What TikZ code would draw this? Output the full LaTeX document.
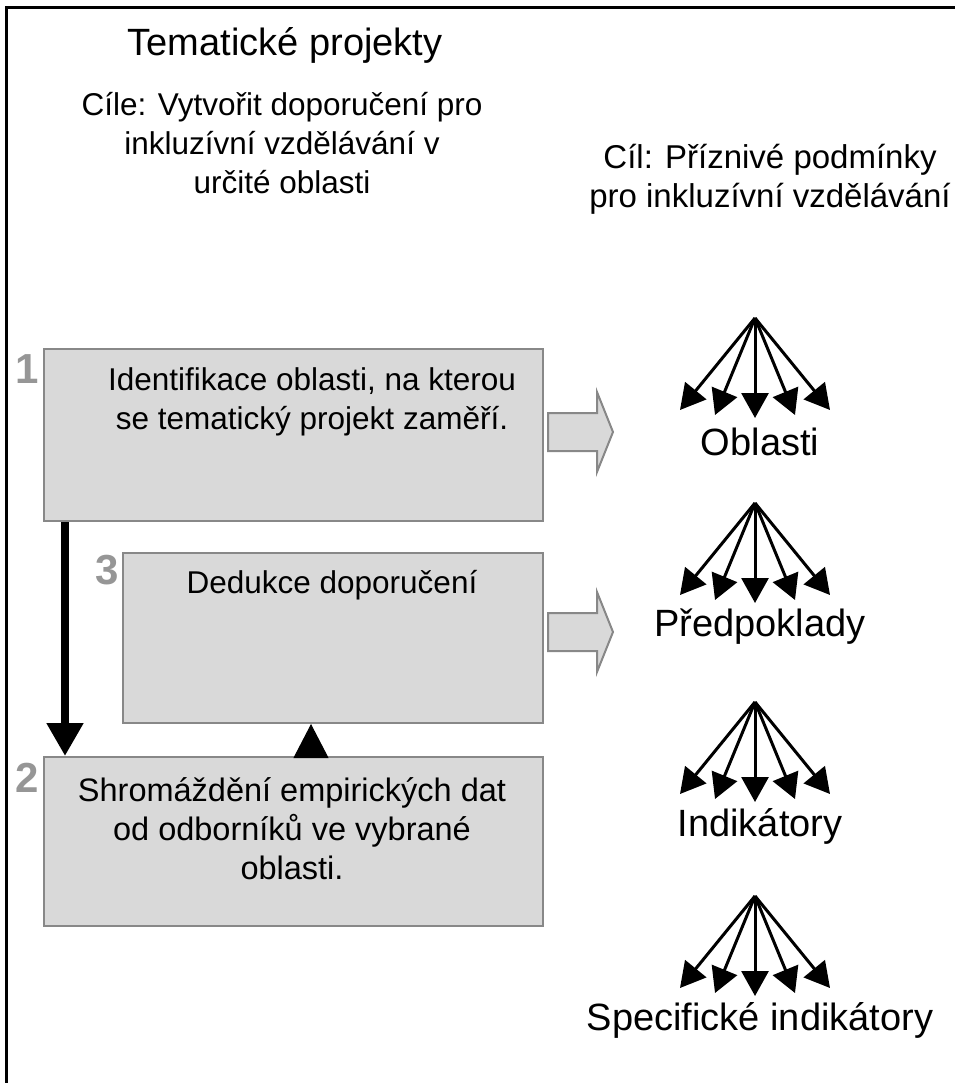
\documentclass[tikz,border=0pt]{standalone}
\usepackage{fontspec}
\setmainfont{Liberation Sans}
\usetikzlibrary{arrows.meta, positioning}
\definecolor{boxfill}{RGB}{217,217,217}
\definecolor{boxline}{RGB}{136,136,136}
\definecolor{numgray}{RGB}{150,150,150}

\begin{document}
\begin{tikzpicture}[x=1pt, y=-1pt,
        stepbox/.style={draw=boxline, fill=boxfill, line width=2pt, inner sep=0pt, anchor=north west},
        txt/.style={font=\fontsize{31.5}{39}\selectfont, align=center, inner sep=0pt},
        bigtxt/.style={font=\fontsize{38}{38}\selectfont, align=center, inner sep=0pt},
        num/.style={font=\fontsize{42}{42}\selectfont\bfseries, text=numgray, inner sep=0pt},
        fan/.style={line width=3pt, -{Triangle[length=25pt, width=27pt]}},
        blockarrow/.style={draw=boxline, fill=boxfill, line width=2pt, line join=miter}]
        \useasboundingbox (0,0) rectangle (955,1083);
        \draw[line width=3pt] (6,1083) -- (6,8) -- (955,8);

        % left column: titles
        \node[txt, font=\fontsize{38}{42}\selectfont] (title) at (285,45) {Tematické projekty};
        \node[txt] (aims) at (282,143) {Cíle: Vytvořit doporučení pro\\inkluzívní vzdělávání v\\určité oblasti};
        \node[txt, font=\fontsize{33}{39}\selectfont] (goal) at (770,179) {Cíl: Příznivé podmínky\\pro inkluzívní vzdělávání};

        % the three steps
        \node[stepbox, minimum width=499, minimum height=172] (ident) at (43,348) {};
        \node[stepbox, minimum width=420, minimum height=170] (deduce) at (122,552) {};
        \node[stepbox, minimum width=499, minimum height=169] (collect) at (43,756) {};
        \node[txt] (identtxt) at (312,402) {Identifikace oblasti, na kterou\\se tematický projekt zaměří.};
        \node[txt] (deducetxt) at (332,585) {Dedukce doporučení};
        \node[txt, font=\fontsize{32.5}{39}\selectfont] (collecttxt) at (292,829) {Shromáždění empirických dat\\od odborníků ve vybrané\\oblasti.};
        \node[num] (n1) at (27,369) {1};
        \node[num] (n3) at (107,570) {3};
        \node[num] (n2) at (27,778) {2};

        \draw[line width=8pt, -{Triangle[length=33pt, width=35pt]}] ([xshift=22pt]ident.south west) -- ([xshift=22pt]collect.north west);
        \draw[line width=1pt, -{Triangle[length=34pt, width=35pt]}] ([xshift=268pt]collect.north west) -- ([xshift=189pt]deduce.south west);

        % block arrows to the right
        \foreach \yc in {432,632} {
            \draw[blockarrow] (548,{\yc-19}) -- (597,{\yc-19}) -- (597,{\yc-40}) -- (613,\yc)
                -- (597,{\yc+40}) -- (597,{\yc+19}) -- (548,{\yc+19}) -- cycle;
        }

        % fans
        \foreach \ay/\lab [count=\i] in {318/Oblasti, 503/Předpoklady, 702/Indikátory, 896/Specifické indikátory} {
            \coordinate (apex\i) at (755,\ay);
            \foreach \dx/\dy in {-75/92, -40/97, 0/100, 40/97, 75/92}
                \draw[fan] (apex\i) -- ++(\dx,\dy);
            \node[bigtxt] (lab\i) at (760,{\ay+124}) {\lab};
        }
    \end{tikzpicture}
\end{document}
